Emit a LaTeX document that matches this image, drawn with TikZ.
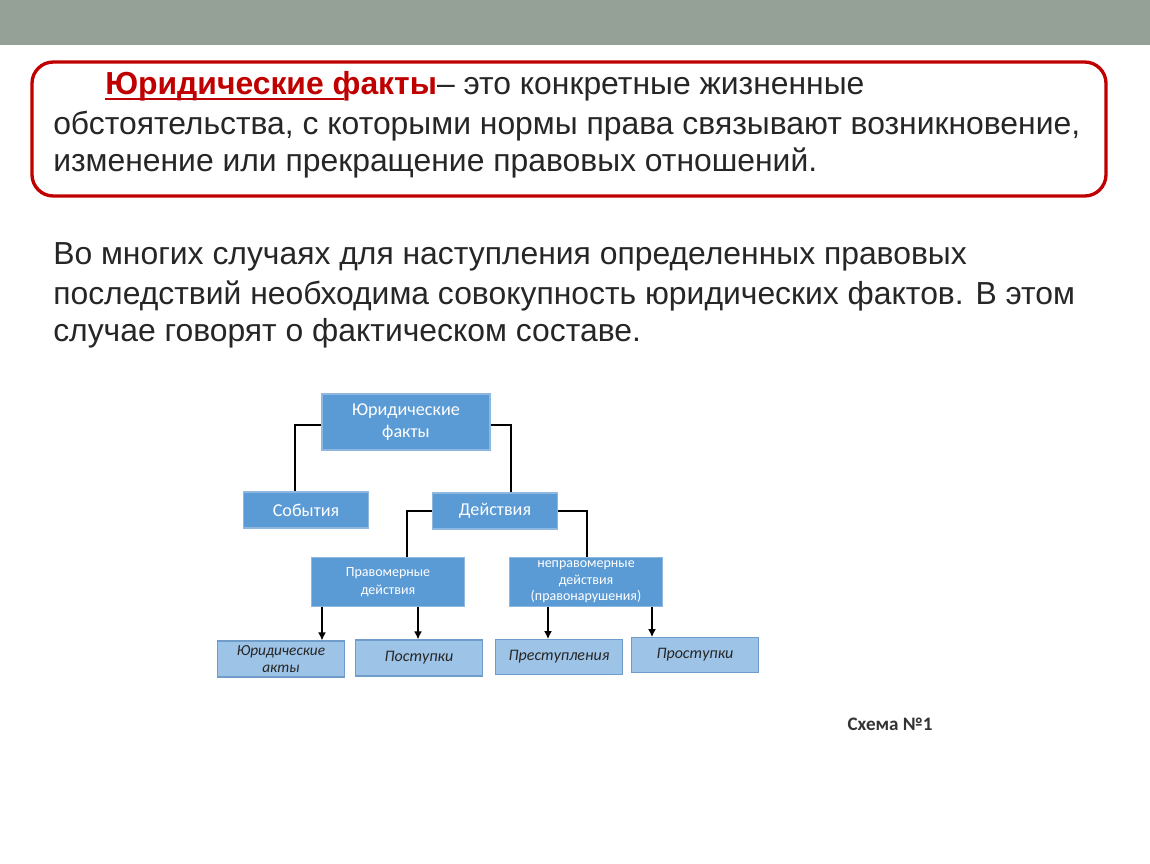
\documentclass[tikz,border=0pt]{standalone}
\usepackage{fontspec}
\setmainfont{Liberation Sans}
\newfontfamily\boxfont{Carlito}
\usetikzlibrary{arrows.meta,positioning}
\definecolor{barGray}{HTML}{95A196}
\definecolor{frameRed}{HTML}{C00000}
\definecolor{factBlue}{HTML}{5B9BD5}
\definecolor{factEdge}{HTML}{8FB8E0}
\definecolor{leafBlue}{HTML}{9DC3E6}
\definecolor{leafEdge}{HTML}{6F9CC8}
\tikzset{
  factbox/.style={draw=factEdge, fill=factBlue, text=white, font=\boxfont, align=center, inner sep=0pt, line width=0.8pt},
  leafbox/.style={draw=leafEdge, fill=leafBlue, text=black!85, font=\boxfont\itshape, align=center, inner sep=0pt, line width=0.8pt},
  link/.style={line width=1.8pt, black},
  down/.style={link, -{Latex[length=6pt,width=6pt]}},
  bodytext/.style={anchor=base west, inner sep=0pt, font=\fontsize{23.9}{28}\selectfont, text=black!85}
}
\begin{document}
\begin{tikzpicture}[x=0.75pt,y=-0.75pt]
  \useasboundingbox (0,0) rectangle (1150,864);
  % Top bar
  \fill[barGray] (0,0) rectangle (1150,45);

  % Definition frame
  \draw[frameRed, line width=2.5pt, rounded corners=16pt] (32,62) rectangle (1106,196);
  \node[bodytext] (defA) at (105,94) {\textcolor{frameRed}{\textbf{Юридические факты\rlap{\rule[-2.5pt]{\dimexpr\wd0\relax}{0pt}}}}\hspace{0pt}– это конкретные жизненные};
  \draw[frameRed, line width=1.2pt] (105,99) -- (344,99);
  \node[bodytext] (defB) at (53,134) {обстоятельства, с которыми нормы права связывают возникновение,};
  \node[bodytext] (defC) at (53,171) {изменение или прекращение правовых отношений.};

  % Paragraph
  \node[bodytext] (parA) at (53,264) {Во многих случаях для наступления определенных правовых};
  \node[bodytext] (parB) at (53,304) {последствий необходима совокупность юридических фактов. В этом};
  \node[bodytext] (parC) at (53,341) {случае говорят о фактическом составе.};

  % Diagram
  \node[factbox, minimum width=126pt, minimum height=42pt, font=\boxfont\fontsize{13.6}{16}\selectfont] (facts) at (406,422) {Юридические\\факты};
  \node[factbox, minimum width=94pt, minimum height=27pt, font=\boxfont\fontsize{13.6}{16}\selectfont] (events) at (306,510) {События};
  \node[factbox, minimum width=94pt, minimum height=27pt, font=\boxfont\fontsize{13.6}{16}\selectfont] (acts) at (495,511) {Действия};
  \node[factbox, minimum width=115pt, minimum height=37pt, font=\boxfont\fontsize{10.5}{13.5}\selectfont] (lawful) at (388,582) {Правомерные\\действия};
  \node[factbox, minimum width=115pt, minimum height=37pt, font=\boxfont\fontsize{10.5}{12.5}\selectfont] (unlawful) at (586,582) {неправомерные\\действия\\(правонарушения)};
  \node[leafbox, minimum width=95pt, minimum height=27pt, font=\boxfont\itshape\fontsize{11.5}{13}\selectfont] (legal) at (281,659) {Юридические\\акты};
  \node[leafbox, minimum width=95pt, minimum height=27pt, font=\boxfont\itshape\fontsize{12}{14}\selectfont] (deeds) at (419,658) {Поступки};
  \node[leafbox, minimum width=95pt, minimum height=26pt, font=\boxfont\itshape\fontsize{12}{14}\selectfont] (crimes) at (559,657) {Преступления};
  \node[leafbox, minimum width=95pt, minimum height=26pt, font=\boxfont\itshape\fontsize{12}{14}\selectfont] (offences) at (695,655) {Проступки};

  % Connectors
  \draw[link] (facts.west |- 0,425) -| (events.north -| 295,0);
  \draw[link] (facts.east |- 0,425) -| (acts.north -| 511,0);
  \draw[link] (acts.west) -| (lawful.north -| 407,0);
  \draw[link] (acts.east) -| (unlawful.north -| 587,0);
  \draw[down] (lawful.south -| 322,0) -- (legal.north -| 322,0);
  \draw[down] (lawful.south -| 418,0) -- (deeds.north -| 418,0);
  \draw[down] (unlawful.south -| 548,0) -- (crimes.north -| 548,0);
  \draw[down] (unlawful.south -| 652,0) -- (offences.north -| 652,0);

  \node[font=\boxfont\bfseries\fontsize{14.3}{16}\selectfont, text=black!80] (caption) at (890,724) {Схема №1};
\end{tikzpicture}
\end{document}
